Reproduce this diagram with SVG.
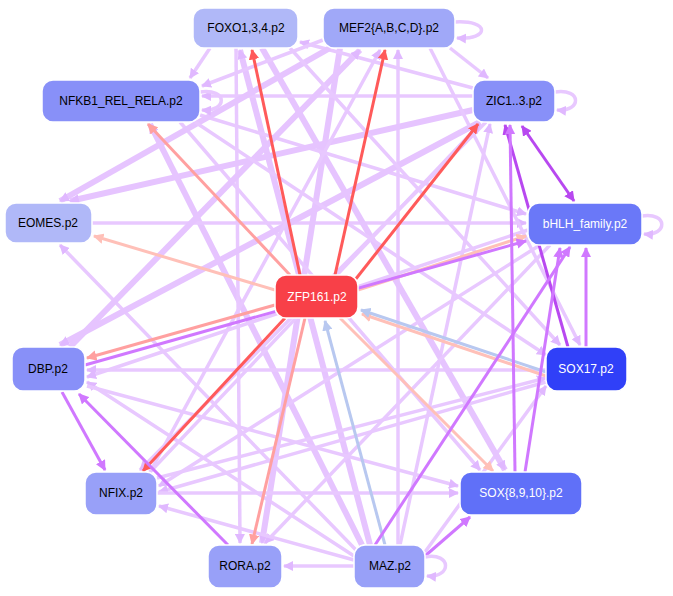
<svg xmlns="http://www.w3.org/2000/svg" width="673" height="596" viewBox="0 0 673 596">
<style>
.n rect{stroke:#fff;stroke-width:1.5}
.n text{font-family:"Liberation Sans",Arial,sans-serif;font-size:12px;text-anchor:middle;dominant-baseline:central;fill:#000}
.w text{fill:#fff}
#edges line,#edges path{fill:none}
.red{stroke:#ff5a5a;stroke-width:3;marker-end:url(#mr)}
.sal{stroke:#ffa0a0;stroke-width:3;marker-end:url(#ms)}
.lsal{stroke:#ffc0b8;stroke-width:3;marker-end:url(#ms2)}
.lb{stroke:#b8c8f0;stroke-width:3;marker-end:url(#mb)}
.pur{stroke:#b848f0;stroke-width:3;marker-end:url(#mp)}
.vio{stroke:#d078ff;stroke-width:3;marker-end:url(#mv)}
.lav{stroke:#e8c8ff;stroke-width:3.5;marker-end:url(#ml)}
.lavt{stroke:#e6c4ff;stroke-width:6;marker-end:url(#ml)}
</style>
<defs>
<marker id="mr" viewBox="0 0 10 10" refX="9" refY="5" markerWidth="3.5" markerHeight="3.5" orient="auto"><path d="M0,0L10,5L0,10z" fill="#ff5a5a"/></marker>
<marker id="ms" viewBox="0 0 10 10" refX="9" refY="5" markerWidth="3.5" markerHeight="3.5" orient="auto"><path d="M0,0L10,5L0,10z" fill="#ffa0a0"/></marker>
<marker id="ms2" viewBox="0 0 10 10" refX="9" refY="5" markerWidth="3.5" markerHeight="3.5" orient="auto"><path d="M0,0L10,5L0,10z" fill="#ffc0b8"/></marker>
<marker id="mb" viewBox="0 0 10 10" refX="9" refY="5" markerWidth="3.5" markerHeight="3.5" orient="auto"><path d="M0,0L10,5L0,10z" fill="#b8c8f0"/></marker>
<marker id="mp" viewBox="0 0 10 10" refX="9" refY="5" markerWidth="3.5" markerHeight="3.5" orient="auto-start-reverse"><path d="M0,0L10,5L0,10z" fill="#b848f0"/></marker>
<marker id="mv" viewBox="0 0 10 10" refX="9" refY="5" markerWidth="3.5" markerHeight="3.5" orient="auto"><path d="M0,0L10,5L0,10z" fill="#d078ff"/></marker>
<marker id="ml" viewBox="0 0 10 10" refX="9" refY="5" markerWidth="10" markerHeight="10" orient="auto" markerUnits="userSpaceOnUse"><path d="M0,0L10,5L0,10z" fill="#e0b8ff"/></marker>
</defs>
<g id="edges">
<line class="lavt" x1="370" y1="545" x2="240" y2="50"/>
<line class="lavt" x1="362" y1="545" x2="150" y2="124"/>
<line class="lav" x1="356" y1="550" x2="60" y2="245"/>
<line class="lav" x1="354" y1="556" x2="87" y2="382"/>
<line class="lav" x1="400" y1="545" x2="490" y2="124"/>
<line class="lav" x1="398" y1="545" x2="398" y2="50"/>
<line class="lav" x1="425" y1="552" x2="546" y2="386"/>
<line class="lav" x1="354" y1="566" x2="284" y2="566"/>
<line class="vio" x1="425" y1="556" x2="470" y2="517"/>
<line class="lav" x1="546" y1="370" x2="87" y2="370"/>
<line class="lav" x1="92" y1="223" x2="526" y2="223"/>
<line class="lavt" x1="262" y1="48" x2="505" y2="470"/>
<line class="lavt" x1="340" y1="48" x2="262" y2="543"/>
<line class="lav" x1="236" y1="48" x2="240" y2="543"/>
<line class="lav" x1="180" y1="122" x2="480" y2="470"/>
<line class="lav" x1="200" y1="115" x2="526" y2="214"/>
<line class="lav" x1="473" y1="96" x2="202" y2="96"/>
<line class="lav" x1="473" y1="88" x2="300" y2="42"/>
<line class="lav" x1="450" y1="48" x2="488" y2="78"/>
<line class="lav" x1="323" y1="40" x2="202" y2="86"/>
<line class="lavt" x1="473" y1="110" x2="70" y2="201"/>
<line class="lavt" x1="480" y1="122" x2="60" y2="345"/>
<line class="lav" x1="486" y1="122" x2="140" y2="470"/>
<line class="lav" x1="528" y1="230" x2="87" y2="377"/>
<line class="lav" x1="540" y1="245" x2="159" y2="486"/>
<line class="lav" x1="550" y1="245" x2="265" y2="543"/>
<line class="lav" x1="546" y1="382" x2="159" y2="492"/>
<line class="lavt" x1="330" y1="48" x2="60" y2="201"/>
<line class="lav" x1="210" y1="48" x2="190" y2="78"/>
<line class="lav" x1="150" y1="472" x2="380" y2="50"/>
<line class="lavt" x1="70" y1="347" x2="360" y2="50"/>
<line class="lav" x1="290" y1="48" x2="560" y2="345"/>
<line class="lav" x1="430" y1="48" x2="580" y2="345"/>
<line class="lav" x1="195" y1="122" x2="546" y2="355"/>
<line class="lav" x1="87" y1="386" x2="458" y2="486"/>
<line class="lav" x1="150" y1="472" x2="480" y2="124"/>
<line class="lav" x1="157" y1="493" x2="458" y2="493"/>
<line class="lav" x1="354" y1="560" x2="159" y2="506"/>
<line class="lav" x1="157" y1="478" x2="546" y2="378"/>
<line class="red" x1="300" y1="275" x2="252" y2="50"/>
<line class="red" x1="335" y1="275" x2="385" y2="50"/>
<line class="red" x1="355" y1="280" x2="478" y2="124"/>
<line class="sal" x1="290" y1="275" x2="148" y2="124"/>
<line class="lsal" x1="275" y1="290" x2="94" y2="236"/>
<line class="sal" x1="275" y1="305" x2="87" y2="358"/>
<line class="red" x1="285" y1="318" x2="143" y2="471"/>
<line class="sal" x1="305" y1="318" x2="252" y2="544"/>
<line class="lsal" x1="358" y1="290" x2="526" y2="236"/>
<line class="lsal" x1="340" y1="318" x2="493" y2="471"/>
<line class="lb" x1="385" y1="545" x2="325" y2="321"/>
<line class="lsal" x1="546" y1="376" x2="362" y2="314"/>
<line class="lb" x1="546" y1="372" x2="361" y2="310"/>
<line class="pur" x1="522" y1="126" x2="574" y2="201" style="marker-start:url(#mp)"/>
<line class="pur" x1="568" y1="347" x2="505" y2="125"/>
<line class="vio" x1="62" y1="392" x2="105" y2="470"/>
<line class="vio" x1="228" y1="545" x2="79" y2="394"/>
<line class="vio" x1="375" y1="545" x2="570" y2="247"/>
<line class="vio" x1="85" y1="365" x2="526" y2="241"/>
<line class="vio" x1="586" y1="347" x2="586" y2="248"/>
<line class="vio" x1="515" y1="472" x2="510" y2="125"/>
<line class="vio" x1="525" y1="472" x2="560" y2="248"/>
<path class="lav" d="M455,22 C490,20 490,40 457,38"/>
<path class="lav" d="M200,92 C228,88 228,112 202,110"/>
<path class="lav" d="M555,92 C582,88 582,112 557,110"/>
<path class="lav" d="M642,216 C668,212 668,236 644,234"/>
<path class="lav" d="M425,557 C452,552 452,578 427,576"/>
</g>
<g id="FOXO" class="n"><rect x="193" y="8" width="105" height="40" rx="11" fill="#b0b8f8"/><text x="246" y="28">FOXO1,3,4.p2</text></g>
<g id="MEF2" class="n"><rect x="323" y="8" width="132" height="40" rx="11" fill="#a0a8f8"/><text x="389" y="28">MEF2{A,B,C,D}.p2</text></g>
<g id="NFKB" class="n"><rect x="42" y="80" width="158" height="42" rx="11" fill="#8890f8"/><text x="121" y="101">NFKB1_REL_RELA.p2</text></g>
<g id="ZIC" class="n"><rect x="473" y="80" width="82" height="42" rx="11" fill="#8890f8"/><text x="514" y="101">ZIC1..3.p2</text></g>
<g id="EOMES" class="n"><rect x="5" y="203" width="87" height="40" rx="11" fill="#b0b8f8"/><text x="48" y="223">EOMES.p2</text></g>
<g id="bHLH" class="n w"><rect x="528" y="203" width="114" height="42" rx="11" fill="#6a78f8"/><text x="585" y="224">bHLH_family.p2</text></g>
<g id="ZFP161" class="n w"><rect x="275" y="275" width="83" height="43" rx="11" fill="#f84048"/><text x="317" y="297">ZFP161.p2</text></g>
<g id="DBP" class="n"><rect x="12" y="347" width="73" height="44" rx="11" fill="#8890f8"/><text x="48" y="369">DBP.p2</text></g>
<g id="SOX17" class="n w"><rect x="546" y="347" width="81" height="44" rx="11" fill="#3040f8"/><text x="586" y="369">SOX17.p2</text></g>
<g id="NFIX" class="n"><rect x="85" y="472" width="72" height="43" rx="11" fill="#98a0f8"/><text x="121" y="493">NFIX.p2</text></g>
<g id="SOX8910" class="n w"><rect x="460" y="472" width="122" height="43" rx="11" fill="#6070f8"/><text x="521" y="493">SOX{8,9,10}.p2</text></g>
<g id="RORA" class="n"><rect x="208" y="545" width="74" height="43" rx="11" fill="#98a0f8"/><text x="245" y="566">RORA.p2</text></g>
<g id="MAZ" class="n"><rect x="354" y="545" width="71" height="43" rx="11" fill="#98a0f8"/><text x="390" y="566">MAZ.p2</text></g>
</svg>
